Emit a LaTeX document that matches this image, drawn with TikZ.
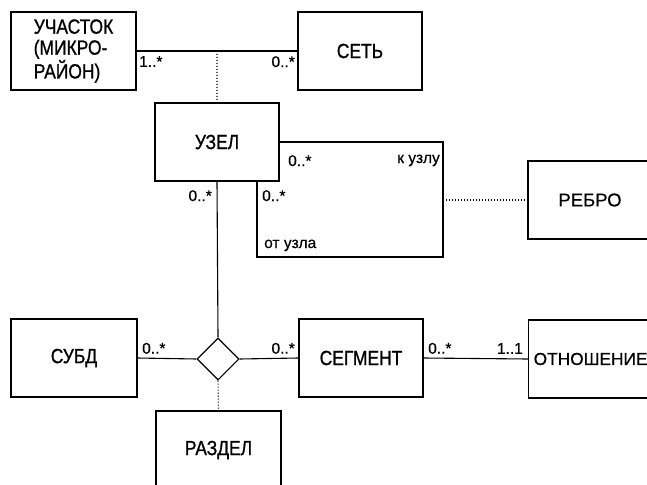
\documentclass[tikz,border=0pt]{standalone}
\usepackage{fontspec}
\setmainfont{Liberation Sans}
\newfontfamily\narrowfont[FakeStretch=0.85,FakeBold=1]{Liberation Sans}
\newfontfamily\plainfont[FakeBold=0.6]{Liberation Sans}
\usetikzlibrary{positioning,calc,shapes.geometric}

\begin{document}
\begin{tikzpicture}[
  x=1pt, y=-1pt,
  box/.style={draw, line width=1.2pt, align=center, minimum width=124pt,
              minimum height=78pt, inner sep=1pt,
              font=\narrowfont\fontsize{20.5}{21}\selectfont},
  widebox/.style={box, font=\plainfont\fontsize{18.5}{21}\selectfont},
  link/.style={line width=1.1pt},
  dep/.style={line width=1.1pt, dash pattern=on 1pt off 2pt},
  lbl/.style={font=\plainfont\fontsize{15.5}{16}\selectfont, inner sep=0pt}
]
  \useasboundingbox (0,0) rectangle (647,484);

  \node[box, minimum width=125pt, align=left] (uchastok) at (73.5,51) {УЧАСТОК\\(МИКРО-\\РАЙОН)};
  \node[box] (set) at (360,51) {СЕТЬ};
  \node[box] (uzel) at (217,142) {\raisebox{-5pt}{УЗЕЛ}};
  \node[widebox] (rebro) at (590,200) {РЕБРО};
  \node[box, minimum width=126pt] (subd) at (74,358) {СУБД};
  \node[draw, link, shape=diamond, minimum width=42pt, minimum height=42pt,
        inner sep=0pt] (dia) at (218,359) {};
  \node[box] (segment) at (361,358) {СЕГМЕНТ};
  \node[widebox, anchor=west, font=\plainfont\fontsize{17.3}{21}\selectfont] (otn) at (528,359) {ОТНОШЕНИЕ};
  \node[box, minimum width=125pt] (razdel) at (218.5,450) {РАЗДЕЛ};

  \coordinate (mid) at ($(uchastok.east)!0.5!(set.west)$);
  \coordinate (loopne) at (443,142);
  \coordinate (loopsw) at (257,257);

  \draw[link] (uchastok.east) -- (set.west);
  \draw[dep] (mid) -- (uzel.north);
  \draw[link] (uzel.east) -- (loopne) |- (loopsw) -- (loopsw |- uzel.south);
  \draw[dep] (loopne |- rebro.west) -- (rebro.west);
  \draw[link] (uzel.south) -- (dia.north);
  \draw[link] (subd.east) -- (dia.west);
  \draw[link] (dia.east) -- (segment.west);
  \draw[link] (segment.east) -- (otn.west);
  \draw[dep] (dia.south) -- (razdel.north);

  \node[lbl, anchor=north west] (m1) at (139,56) {1..*};
  \node[lbl, anchor=north east] (m2) at (295,56) {0..*};
  \node[lbl, anchor=north west] (m3) at (288,155) {0..*};
  \node[lbl, anchor=base east] (m4) at (440,163) {к узлу};
  \node[lbl, anchor=north west] (m5) at (262,190) {0..*};
  \node[lbl, anchor=base west] (m6) at (264,248) {от узла};
  \node[lbl, anchor=north east] (m7) at (212,190) {0..*};
  \node[lbl, anchor=south west] (m8) at (142,354) {0..*};
  \node[lbl, anchor=south east] (m9) at (295,354) {0..*};
  \node[lbl, anchor=south west] (m10) at (428,354) {0..*};
  \node[lbl, anchor=south east] (m11) at (523,354) {1..1};
\end{tikzpicture}
\end{document}
